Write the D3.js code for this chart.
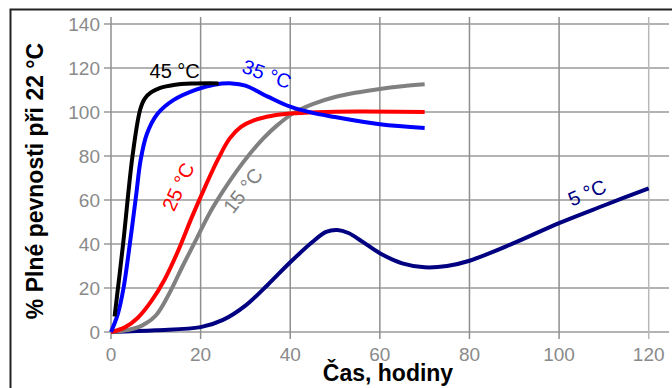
<!DOCTYPE html>
<html>
<head>
<meta charset="utf-8">
<script src="https://cdn.jsdelivr.net/npm/d3@7"></script>
<style>
  html, body { margin: 0; padding: 0; background: #fff; }
  svg { display: block; font-family: "Liberation Sans", Arial, sans-serif; }
</style>
</head>
<body>
<svg id="chart" width="672" height="388"></svg>
<script>
// ---- data ----
const xTicks = [0, 20, 40, 60, 80, 100, 120];
const yTicks = [0, 20, 40, 60, 80, 100, 120, 140];
const xTitle = "Čas, hodiny";
const yTitle = "% Plné pevnosti při 22 °C";

const seriesNames = ["45 °C", "35 °C", "25 °C", "15 °C", "5 °C"];
const seriesColors = ["#000000", "#0000ff", "#ff0000", "#808080", "#000080"];

const s45 = [[0.8,7],[2.7,40],[4.8,80],[6.5,101],[7.5,106],[9,109],[11,111],[14,112.3],[18,112.9],[24,113]];
const s35 = [[0,0],[1.5,8],[2.8,20],[4.2,40],[5.6,62],[6.6,78],[8,90],[10.3,99],[14,105.5],[19,110.2],[23,112.4],[27,113],[30,112],[35,107],[40,102.4],[45,99.6],[50,97.7],[60,94.4],[70,92.7]];
const s25 = [[0,0],[3,2],[6,6.5],[9,14],[12,24],[15,37],[18,52],[21,66],[24,79],[26.5,88],[29,93.2],[32,96.3],[36,98.3],[40,99.3],[46,99.9],[55,100.2],[70,100]];
const s15 = [[0,0],[4,1],[7,3],[10,7.5],[13,17.5],[16,30],[19,42],[22,54],[25,64],[28,73],[31,81],[34,88],[37,93.8],[40.7,99.5],[45,103.6],[50,106.8],[55,108.9],[60,110.5],[65,111.7],[70,112.6]];
const s5 = [[0,0],[10,0.8],[20,2.2],[25,5.5],[30,12],[35,21.5],[40,31.7],[45,41],[48,45.5],[50.5,46.4],[53,45],[56,41.2],[60,35.8],[65,31.2],[70,29.4],[75,30],[80,32.4],[90,40.5],[100,49.5],[110,57.5],[120,65.3]];

// label anchor points (data units) and rotation
const labelX = [14.2, 34.8, 14.96, 29.4, 106.2];
const labelY = [118.6, 117.3, 66.05, 64.3, 63.4];
const labelRot = [0, 20, -65, -52, -23];

const seriesData = [s45, s35, s25, s15, s5];

// ---- layout ----
const svg = d3.select("#chart");
const x = d3.scaleLinear().domain([0, 120]).range([111, 648.7]);
const y = d3.scaleLinear().domain([0, 140]).range([332, 24]);

// frame
svg.append("rect")
  .attr("x", 10.5).attr("y", 9.5)
  .attr("width", 700).attr("height", 400)
  .attr("fill", "none").attr("stroke", "#222").attr("stroke-width", 2);

// grid: horizontal
svg.append("g").selectAll("line").data(yTicks).join("line")
  .attr("x1", 104).attr("x2", 669)
  .attr("y1", d => y(d)).attr("y2", d => y(d))
  .attr("stroke", "#9a9a9a").attr("stroke-width", 1.5);

// grid: vertical
svg.append("g").selectAll("line").data(xTicks).join("line")
  .attr("x1", d => x(d)).attr("x2", d => x(d))
  .attr("y1", 17).attr("y2", 339)
  .attr("stroke", d => d === 120 ? "#b8b8b8" : "#8f8f8f").attr("stroke-width", 1.5);

// tick labels
svg.append("g").selectAll("text").data(yTicks).join("text")
  .attr("x", 100).attr("y", d => y(d))
  .attr("dy", "0.36em")
  .attr("text-anchor", "end")
  .attr("font-size", 19).attr("fill", "#8a8a8a")
  .text(d => d);

svg.append("g").selectAll("text").data(xTicks).join("text")
  .attr("x", d => x(d)).attr("y", 361)
  .attr("text-anchor", "middle")
  .attr("font-size", 19).attr("fill", "#8a8a8a")
  .text(d => d);

// axis titles
svg.append("text")
  .attr("transform", "translate(43,181) rotate(-90)")
  .attr("text-anchor", "middle")
  .attr("font-size", 23).attr("font-weight", "bold").attr("fill", "#000")
  .text(yTitle);

svg.append("text")
  .attr("x", 388).attr("y", 381)
  .attr("text-anchor", "middle")
  .attr("font-size", 23).attr("font-weight", "bold").attr("fill", "#000")
  .text(xTitle);

// lines
const line = d3.line().x(d => x(d[0])).y(d => y(d[1])).curve(d3.curveCatmullRom.alpha(0.5));
const order = [4, 3, 2, 1, 0];
svg.append("g").selectAll("path").data(order).join("path")
  .attr("d", i => line(seriesData[i]))
  .attr("fill", "none")
  .attr("stroke", i => seriesColors[i])
  .attr("stroke-width", 4)
  .attr("stroke-linejoin", "round");

// series labels
svg.append("g").selectAll("text").data(seriesNames.map((n, i) => i)).join("text")
  .attr("transform", i => `translate(${x(labelX[i])},${y(labelY[i])}) rotate(${labelRot[i]})`)
  .attr("text-anchor", "middle")
  .attr("dy", "0.36em")
  .attr("font-size", 20)
  .attr("fill", i => seriesColors[i])
  .text(i => seriesNames[i]);
</script>
</body>
</html>
